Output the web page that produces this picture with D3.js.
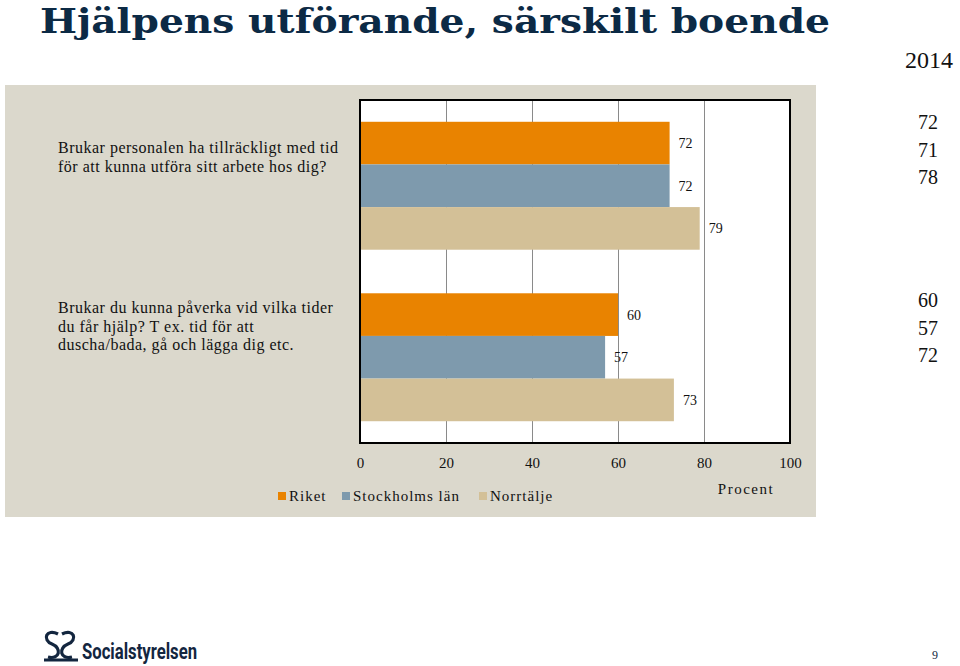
<!DOCTYPE html>
<html><head><meta charset="utf-8">
<script src="https://cdn.jsdelivr.net/npm/d3@7"></script>
<style>body{margin:0;background:#fff}svg{display:block}</style>
</head><body>
<svg id="c" width="960" height="666"></svg>
<script>
const title = "Hjälpens utförande, särskilt boende";
const categories = ["q1", "q2"];
const categoryLines = [
  ["Brukar personalen ha tillräckligt med tid", "för att kunna utföra sitt arbete hos dig?"],
  ["Brukar du kunna påverka vid vilka tider", "du får hjälp? T ex. tid för att", "duscha/bada, gå och lägga dig etc."]
];
const seriesNames = ["Riket", "Stockholms län", "Norrtälje"];
const riket = [72, 60];
const stockholm = [72, 57];
const norrtalje = [79, 73];
const yearLabel = "2014";
const year2014Riket = [72, 60];
const year2014Stockholm = [71, 57];
const year2014Norrtalje = [78, 72];
const xTicks = [0, 20, 40, 60, 80, 100];
const axisTitle = "Procent";

const colors = ["#e98300", "#7e9aad", "#d3c097"];
const serif = "'Liberation Serif','DejaVu Serif',serif";
const seriesVals = [riket, stockholm, norrtalje];
const series2014 = [year2014Riket, year2014Stockholm, year2014Norrtalje];

const svg = d3.select("#c");

// title
svg.append("text").attr("x", 40).attr("y", 33)
  .attr("font-family", "'DejaVu Serif',serif").attr("font-weight", "bold").attr("font-size", 34)
  .attr("fill", "#0c2a45").attr("textLength", 790).attr("lengthAdjust", "spacingAndGlyphs")
  .text(title);

// panel
svg.append("rect").attr("x", 5).attr("y", 85).attr("width", 811).attr("height", 432).attr("fill", "#dbd8cc");

const x = d3.scaleLinear().domain([0, 100]).range([360, 790]);
const y = d3.scaleBand().domain(categories).range([100, 443]).paddingInner(0.254).paddingOuter(0.127);
const ys = d3.scaleBand().domain(seriesNames).range([0, y.bandwidth()]);

// plot background
svg.append("rect").attr("x", x(0)).attr("y", 100).attr("width", x(100) - x(0)).attr("height", 343).attr("fill", "#fff");

// gridlines via axis
const grid = svg.append("g").attr("transform", "translate(0,443)")
  .call(d3.axisBottom(x).tickValues(xTicks.slice(1, -1)).tickSize(-343).tickFormat(""));
grid.select(".domain").remove();
grid.selectAll(".tick line").attr("stroke", "#8a8a8a").attr("stroke-width", 1);

// bars
categories.forEach((c, ci) => {
  seriesNames.forEach((s, si) => {
    const v = seriesVals[si][ci];
    const y0 = y(c) + ys(s);
    svg.append("rect").attr("x", x(0)).attr("y", y0).attr("width", x(v) - x(0)).attr("height", ys.bandwidth())
      .attr("fill", colors[si]);
    svg.append("text").attr("x", x(v) + 9).attr("y", y0 + ys.bandwidth() / 2 + 5)
      .attr("font-family", serif).attr("font-size", 14).attr("fill", "#111").text(v);
  });
});

// frame
svg.append("rect").attr("x", x(0)).attr("y", 100).attr("width", x(100) - x(0)).attr("height", 343)
  .attr("fill", "none").attr("stroke", "#000").attr("stroke-width", 2);

// tick labels
const ax = svg.append("g").attr("transform", "translate(0,443)")
  .call(d3.axisBottom(x).tickValues(xTicks).tickSize(0).tickPadding(14));
ax.select(".domain").remove();
ax.selectAll("text").attr("font-family", serif).attr("font-size", 15).attr("fill", "#111");

// category labels
const catY = [148, 308];
categoryLines.forEach((lines, i) => {
  lines.forEach((l, li) => {
    svg.append("text").attr("x", 58).attr("y", catY[i] + li * 18.5 + 5)
      .attr("font-family", serif).attr("font-size", 16).attr("letter-spacing", 0.5)
      .attr("fill", "#111").text(l);
  });
});

// legend
const legX = [278, 342, 479];
seriesNames.forEach((s, i) => {
  svg.append("rect").attr("x", legX[i]).attr("y", 492).attr("width", 8).attr("height", 8).attr("fill", colors[i]);
  svg.append("text").attr("x", legX[i] + 11).attr("y", 501).attr("font-family", serif).attr("font-size", 15)
    .attr("letter-spacing", 1).attr("fill", "#111").text(s);
});
svg.append("text").attr("x", 746).attr("y", 494).attr("text-anchor", "middle").attr("font-family", serif)
  .attr("font-size", 15).attr("letter-spacing", 1.5).attr("fill", "#111").text(axisTitle);

// right column
svg.append("text").attr("x", 929).attr("y", 68).attr("text-anchor", "middle").attr("font-family", serif)
  .attr("font-size", 24).attr("fill", "#111").text(yearLabel);
const rightY = [129, 307];
categories.forEach((c, ci) => {
  series2014.forEach((arr, si) => {
    svg.append("text").attr("x", 928).attr("y", rightY[ci] + si * 27.5).attr("text-anchor", "middle")
      .attr("font-family", serif).attr("font-size", 20).attr("fill", "#111").text(arr[ci]);
  });
});

// logo
const lg = svg.append("g").attr("fill", "none").attr("stroke", "#13263f").attr("stroke-width", 3.2);
lg.append("path").attr("d", "M58,634 C46,628 42,640 52,644 C62,648 60,660 48,657");
lg.append("path").attr("d", "M62,634 C74,628 78,640 68,644 C58,648 60,660 72,657");
lg.append("path").attr("d", "M44,660 L78,660");
svg.append("text").attr("x", 82).attr("y", 659).attr("font-family", "'Liberation Sans Narrow','Roboto','Liberation Sans',sans-serif")
  .attr("font-weight", "bold").attr("font-size", 22).attr("fill", "#13263f").attr("textLength", 115)
  .attr("lengthAdjust", "spacingAndGlyphs").text("Socialstyrelsen");

svg.append("text").attr("x", 935).attr("y", 659).attr("text-anchor", "middle").attr("font-family", serif)
  .attr("font-size", 12).attr("fill", "#13263f").text("9");
</script>
</body></html>
